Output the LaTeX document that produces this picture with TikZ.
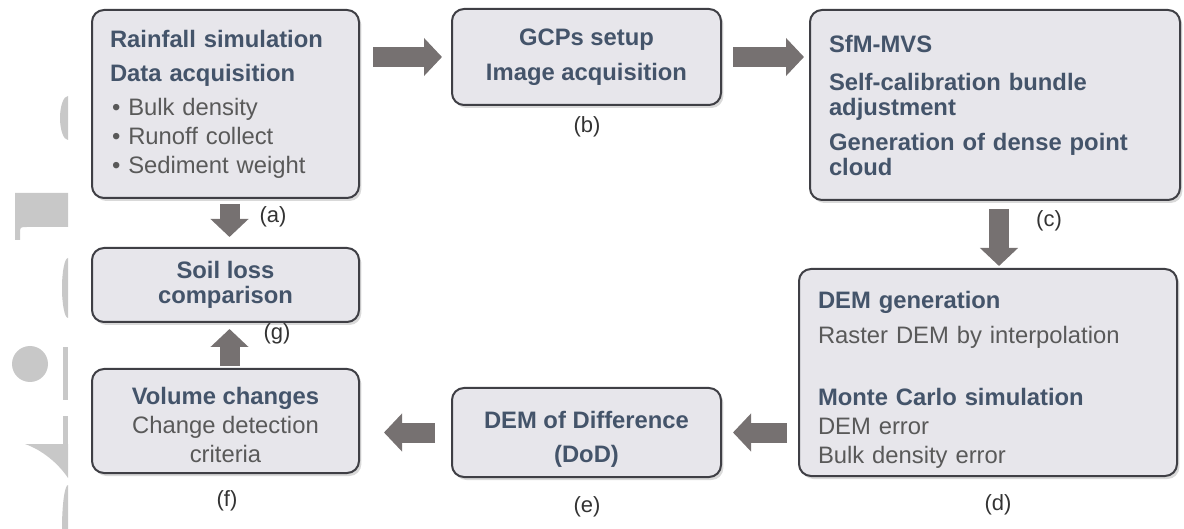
\documentclass[tikz,border=0pt]{standalone}
\usepackage{fontspec}
\setmainfont{Liberation Sans}
\usetikzlibrary{arrows.meta, shadows, positioning}

\definecolor{boxfill}{HTML}{E7E6EB}
\definecolor{boxline}{HTML}{3F3F45}
\definecolor{headtxt}{HTML}{44546A}
\definecolor{bodytxt}{HTML}{595959}
\definecolor{arrowgray}{HTML}{767171}
\definecolor{markgray}{HTML}{C8C8C8}

% bold heading inside a box
\newcommand{\hd}[1]{{\bfseries\color{headtxt}#1}}

\begin{document}
\begin{tikzpicture}[x=0.5pt, y=-0.5pt,
    stepbox/.style={draw=boxline, line width=1pt, fill=boxfill, rounded corners=6pt,
        drop shadow={shadow xshift=1.2pt, shadow yshift=-1.5pt, opacity=0.3},
        font=\fontsize{11.9pt}{14.5pt}\selectfont, text=bodytxt, inner sep=0pt},
    tag/.style={font=\fontsize{11pt}{13pt}\selectfont, text=black!80},
    flow/.style={arrowgray, line width=10pt, -{Triangle[length=9pt, width=18.5pt]}}]
    \useasboundingbox (0,0) rectangle (1184,529);

    % light marks along the left edge
    \begin{scope}
        \clip (0,0) rectangle (68,529);
        \fill[markgray] (68,118) ellipse[x radius=4pt, y radius=11pt];
        \fill[markgray] (15,193) -- (68,193) -- (68,227) -- (27,227)
            .. controls (20,227) .. (20,234) -- (20,240) -- (15,240) -- cycle;
        \fill[markgray] (68,288) ellipse[x radius=3pt, y radius=15pt];
        \fill[markgray] (30,364) circle[radius=9pt];
        \fill[markgray] (63,347) rectangle (68,400);
        \fill[markgray] (63,416) rectangle (68,444);
        \fill[markgray] (25,444) -- (68,444) -- (68,478)
            .. controls (58,463) and (42,450) .. cycle;
        \fill[markgray] (68,529) ellipse[x radius=3pt, y radius=22pt];
    \end{scope}

    % top row
    \node[stepbox, align=left, minimum width=133.5pt, minimum height=94pt, text width=115.5pt]
        (rain) at (225.5,104) {\hd{Rainfall simulation}\\[2.5pt]
        \hd{Data acquisition}\\[2.5pt]
        \hspace{1pt}\textbullet\ Bulk density\\
        \hspace{1pt}\textbullet\ Runoff collect\\
        \hspace{1pt}\textbullet\ Sediment weight};
    \node[stepbox, align=center, minimum width=134.5pt, minimum height=48pt]
        (gcp) at (586.5,57) {\hd{GCPs setup}\\[3pt]\hd{Image acquisition}};
    \node[stepbox, align=left, minimum width=185pt, minimum height=95pt, text width=166pt,
        font=\fontsize{11.9pt}{12.5pt}\selectfont]
        (sfm) at (995,105) {\hd{SfM-MVS}\\[6.5pt]
        \hd{Self-calibration bundle}\\
        \hd{adjustment}\\[5pt]
        \hd{Generation of dense point}\\
        \hd{cloud}};

    % left column and bottom row
    \node[stepbox, align=center, minimum width=133.5pt, minimum height=37pt,
        font=\fontsize{11.9pt}{12.5pt}\selectfont]
        (soil) at (225.5,285) {\hd{Soil loss}\\\hd{comparison}};
    \node[stepbox, align=left, minimum width=189pt, minimum height=103.5pt, text width=170pt]
        (dem) at (988,372.5) {\rule{0pt}{15.5pt}\hd{DEM generation}\\[3pt]
        Raster DEM by interpolation\\[16.5pt]
        \hd{Monte Carlo simulation}\\
        DEM error\\
        Bulk density error};
    \node[stepbox, align=center, minimum width=134.5pt, minimum height=44.5pt]
        (dod) at (586.5,432.5) {\rule{0pt}{15pt}\hd{DEM of Difference}\\[2.5pt]\hd{(DoD)}};
    \node[stepbox, align=center, minimum width=133.5pt, minimum height=52pt]
        (vol) at (225.5,421) {\rule{0pt}{12.5pt}\hd{Volume changes}\\
        Change detection\\criteria};

    % step labels
    \node[tag] (la) at (273,217) {(a)};
    \node[tag] (lb) at (587,127) {(b)};
    \node[tag] (lc) at (1049,221) {(c)};
    \node[tag] (ld) at (998,505) {(d)};
    \node[tag] (le) at (587,507) {(e)};
    \node[tag] (lf) at (227,501) {(f)};
    \node[tag] (lg) at (277,334) {(g)};

    % flow between the steps
    \draw[flow, shorten <=6.5pt, shorten >=4.5pt] (rain.east |- gcp.west) -- (gcp.west);
    \draw[flow, shorten <=5.5pt, shorten >=2.5pt] (gcp.east) -- (gcp.east -| sfm.west);
    \draw[flow, shorten <=4pt, shorten >=1pt] ([xshift=2pt]sfm.south) -- ([xshift=2pt]sfm.south |- dem.north);
    \draw[flow, shorten <=5.5pt, shorten >=5.5pt] (dem.west |- dod.east) -- (dod.east);
    \draw[flow, shorten <=8pt, shorten >=12pt] (dod.west) -- (dod.west -| vol.east);
    \draw[flow, shorten <=2.5pt, shorten >=5pt] ([xshift=2pt]rain.south) -- ([xshift=2pt]soil.north);
    \draw[flow, shorten <=1pt, shorten >=3pt] ([xshift=2pt]vol.north) -- ([xshift=2pt]soil.south);
\end{tikzpicture}
\end{document}
